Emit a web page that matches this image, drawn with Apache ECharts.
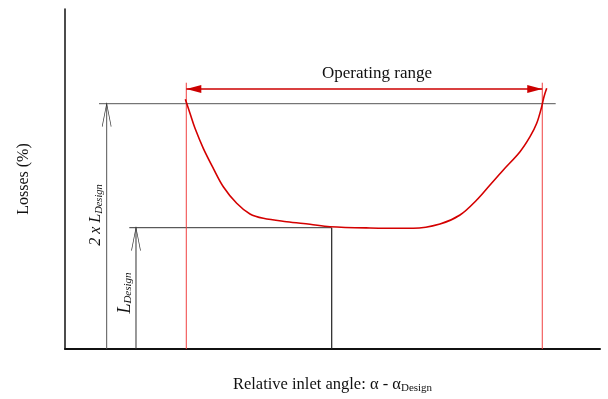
<!DOCTYPE html>
<html><head><meta charset="utf-8">
<script src="https://cdn.jsdelivr.net/npm/echarts@6/dist/echarts.min.js"></script>
<style>html,body{margin:0;padding:0;background:#fff}#c{width:608px;height:399px}</style>
</head><body><div id="c"></div>
<script>
// Loss curve (relative inlet angle vs losses, arbitrary units)
const curveAngle = [22.49, 23.36, 24.30, 25.85, 27.72, 29.59, 32.09, 34.58, 37.07, 41.44, 45.79, 49.53, 57.01, 65.10, 70.09, 73.83, 76.95, 79.44, 81.93, 85.05, 86.92, 88.17, 89.10, 89.53, 90.04];
const curveLoss  = [73.44, 69.32, 64.91, 59.03, 53.15, 47.74, 42.85, 39.71, 38.44, 37.44, 36.68, 35.97, 35.59, 35.50, 36.76, 39.41, 43.82, 48.24, 52.65, 58.03, 62.44, 66.38, 71.26, 74.21, 76.68];
// Design point and reference levels
const designAngle = 49.85;
const designLoss = 35.68;
const twiceLoss = 72.15;
// Operating range limits
const rangeMin = 22.67;
const rangeMax = 89.21;
const rangeTop = 78.32;
const rangeArrowLevel = 76.47;
// Reference line extents
const twiceLineFrom = 6.36, twiceLineTo = 91.72;
const designLineFrom = 12.02;
const twiceArrowAngle = 7.79;
const designArrowAngle = 13.27;
const axisRange = [0, 100];

const FONT = 'Liberation Serif';
const openV = 'path://M0,23L4.5,0L9,23';

function seg(a, b, color, width, endSym, extra) {
  return Object.assign({
    type: 'line', silent: true, animation: false, symbol: 'none', showSymbol: true,
    lineStyle: { color: color, width: width },
    itemStyle: { color: color },
    emphasis: { disabled: true },
    data: [{ value: a, symbol: 'none' }, endSym ? Object.assign({ value: b }, endSym) : { value: b, symbol: 'none' }]
  }, extra || {});
}

const vArrow = { symbol: openV, symbolSize: [9, 23], symbolOffset: [0, 11.5],
  itemStyle: { color: 'transparent', borderColor: '#333', borderWidth: 1 } };

const series = [
  seg([twiceLineFrom, twiceLoss], [twiceLineTo, twiceLoss], '#555', 1),
  seg([designLineFrom, designLoss], [designAngle, designLoss], '#333', 1),
  seg([designAngle, 0], [designAngle, designLoss], '#222', 1.2),
  seg([twiceArrowAngle, 0], [twiceArrowAngle, twiceLoss], '#555', 1, vArrow),
  seg([designArrowAngle, 0], [designArrowAngle, designLoss], '#333', 1, vArrow),
  seg([rangeMin, 0], [rangeMin, rangeTop], '#f04040', 1),
  seg([rangeMax, 0], [rangeMax, rangeTop], '#f04040', 1),
  {
    type: 'line', silent: true, animation: false, showSymbol: true,
    lineStyle: { color: '#cc0000', width: 1.5 },
    itemStyle: { color: '#cc0000' },
    emphasis: { disabled: true },
    data: [
      { value: [rangeMin, rangeArrowLevel], symbol: 'path://M0,4L15,0L15,8Z', symbolSize: [15, 8], symbolOffset: [7.5, 0] },
      { value: [rangeMax, rangeArrowLevel], symbol: 'path://M15,4L0,0L0,8Z', symbolSize: [15, 8], symbolOffset: [-7.5, 0] }
    ]
  },
  {
    type: 'line', silent: true, animation: false, symbol: 'none', smooth: 0.35,
    lineStyle: { color: '#d40000', width: 1.6 },
    data: curveAngle.map((x, i) => [x, curveLoss[i]])
  }
];

const chart = echarts.init(document.getElementById('c'), null, { renderer: 'canvas' });
chart.setOption({
  backgroundColor: '#fff',
  animation: false,
  grid: { left: 65, top: 9, width: 535, height: 340, containLabel: false, outerBoundsMode: 'none' },
  xAxis: {
    type: 'value', min: axisRange[0], max: axisRange[1],
    axisLine: { show: true, lineStyle: { color: '#111', width: 2 } },
    axisTick: { show: false }, axisLabel: { show: false }, splitLine: { show: false },
    name: '{a|Relative inlet angle: α - α}{s|Design}',
    nameLocation: 'middle', nameGap: 26,
    nameTextStyle: {
      rich: {
        a: { fontFamily: FONT, fontSize: 16.5, color: '#111' },
        s: { fontFamily: FONT, fontSize: 11, color: '#111', padding: [8, 0, 0, 0] }
      }
    }
  },
  yAxis: {
    type: 'value', min: axisRange[0], max: axisRange[1],
    axisLine: { show: true, lineStyle: { color: '#111', width: 1.5 } },
    axisTick: { show: false }, axisLabel: { show: false }, splitLine: { show: false },
    name: 'Losses (%)', nameLocation: 'middle', nameRotate: 90, nameGap: 33,
    nameTextStyle: { fontFamily: FONT, fontSize: 16, color: '#111' }
  },
  graphic: [
    {
      type: 'text', x: 377, y: 74, silent: true,
      style: { text: 'Operating range', font: '17px "Liberation Serif"', fill: '#111', align: 'center', verticalAlign: 'middle' }
    },
    {
      type: 'text', x: 96, y: 215, rotation: Math.PI / 2, silent: true,
      style: {
        text: '{a|2 x L}{s|Design}', align: 'center', verticalAlign: 'middle',
        rich: {
          a: { fontFamily: FONT, fontStyle: 'italic', fontSize: 16, fill: '#111' },
          s: { fontFamily: FONT, fontStyle: 'italic', fontSize: 10.5, fill: '#111', padding: [7, 0, 0, 0] }
        }
      }
    },
    {
      type: 'text', x: 125, y: 293, rotation: Math.PI / 2, silent: true,
      style: {
        text: '{a|L}{s|Design}', align: 'center', verticalAlign: 'middle',
        rich: {
          a: { fontFamily: FONT, fontStyle: 'italic', fontSize: 18, fill: '#111' },
          s: { fontFamily: FONT, fontStyle: 'italic', fontSize: 11, fill: '#111', padding: [7, 0, 0, 0] }
        }
      }
    }
  ],
  series: series
});
</script></body></html>
